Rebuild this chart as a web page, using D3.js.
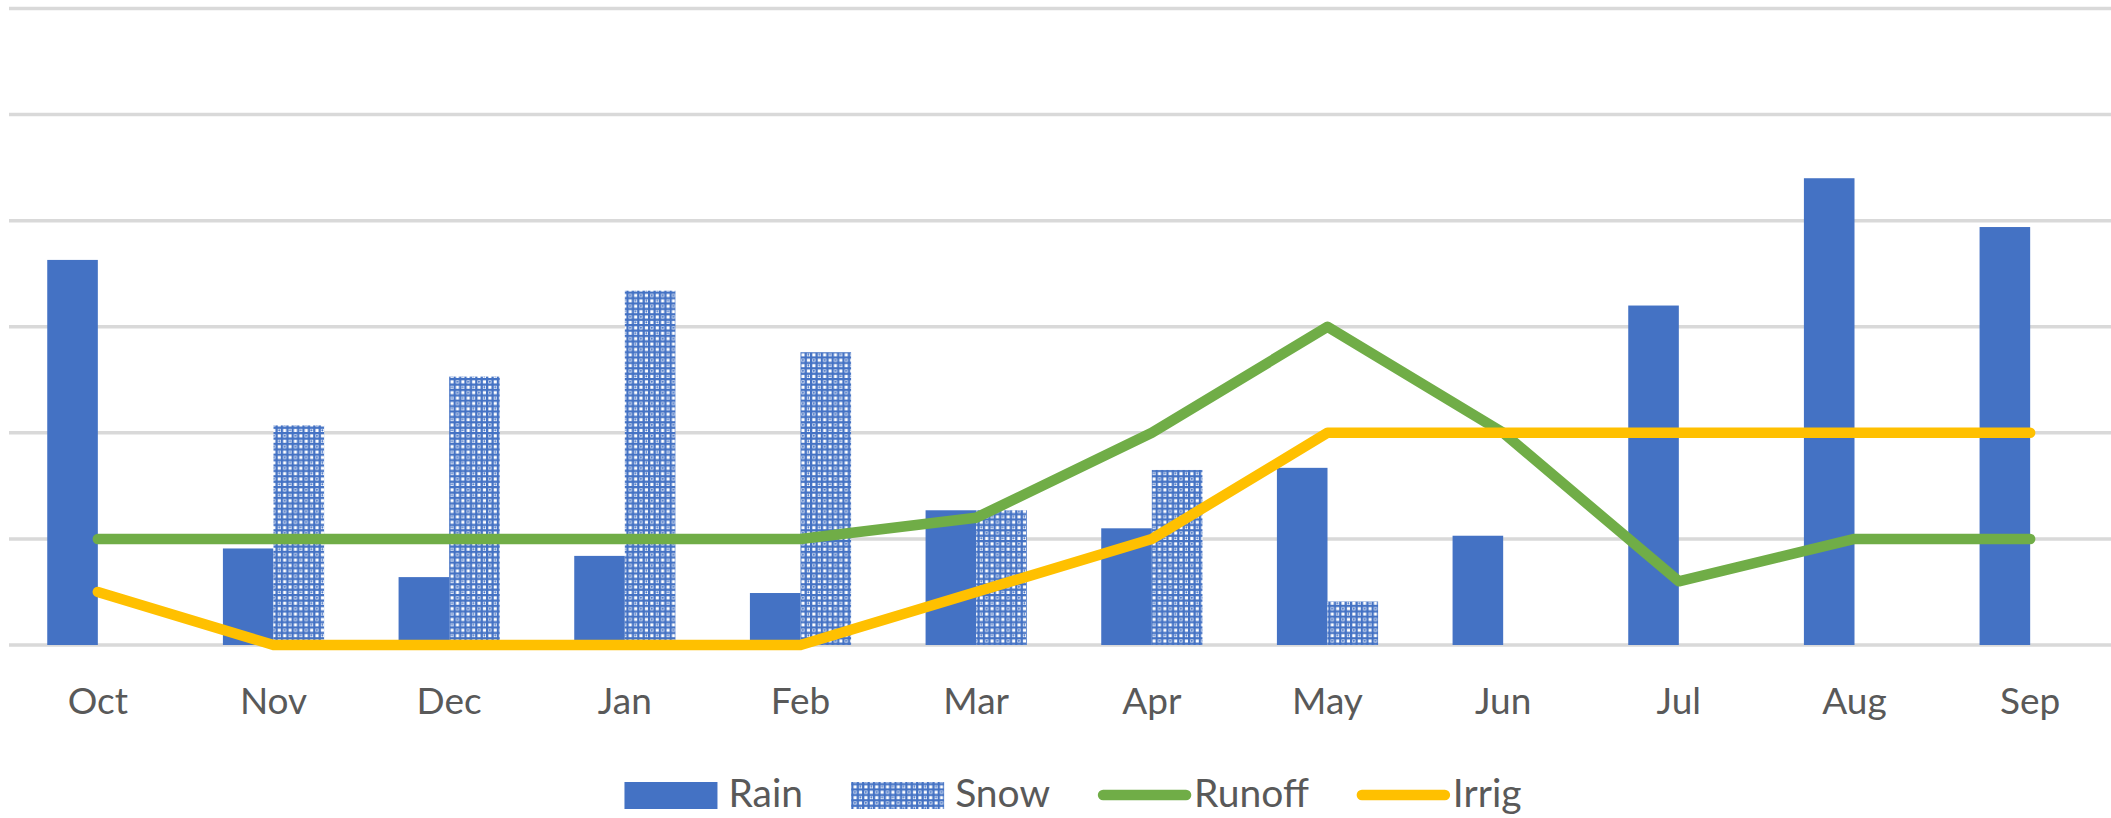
<!DOCTYPE html>
<html>
<head>
<meta charset="utf-8">
<script src="https://cdn.jsdelivr.net/npm/d3@7"></script>
<style>
  html, body { margin: 0; padding: 0; background: #ffffff; }
  svg { display: block; }
  text { font-family: Lato, "Open Sans", sans-serif; fill: #595959; }
</style>
</head>
<body>
<svg id="chart" width="2111" height="818"></svg>
<script>
const months = ["Oct","Nov","Dec","Jan","Feb","Mar","Apr","May","Jun","Jul","Aug","Sep"];
const rain   = [3.63, 0.91, 0.64, 0.84, 0.49, 1.27, 1.10, 1.67, 1.03, 3.20, 4.40, 3.94];
const snow   = [0, 2.07, 2.53, 3.34, 2.76, 1.27, 1.65, 0.41, 0, 0, 0, 0];
const runoff = [1, 1, 1, 1, 1, 1.2, 2, 3, 2, 0.6, 1, 1];
const irrig  = [0.5, 0, 0, 0, 0, 0.5, 1, 2, 2, 2, 2, 2];
const yTicks = [0, 1, 2, 3, 4, 5, 6];
const legendLabels = ["Rain", "Snow", "Runoff", "Irrig"];

const colors = { Rain: "#4472C4", Snow: "#4472C4", Runoff: "#70AD47", Irrig: "#FFC000" };

const svg = d3.select("#chart");
const W = 2111, H = 818;
const plot = { left: 10, right: 2118, top: 8.5, bottom: 645 };

// pattern for Snow
const defs = svg.append("defs");
const t = 10.8, c = t / 2;
const pat = defs.append("pattern").attr("id", "snowPat")
  .attr("patternUnits", "userSpaceOnUse").attr("width", t).attr("height", t);
pat.append("rect").attr("width", t).attr("height", t).attr("fill", "#ffffff");
[0, c].forEach(o => {
  pat.append("rect").attr("x", o).attr("y", 0).attr("width", 2.3).attr("height", t).attr("fill", colors.Snow);
  pat.append("rect").attr("x", 0).attr("y", o).attr("width", t).attr("height", 2.3).attr("fill", colors.Snow);
});
pat.append("circle").attr("cx", 3.8).attr("cy", 3.8).attr("r", 1.0).attr("fill", colors.Snow);
pat.append("circle").attr("cx", 3.8 + c).attr("cy", 3.8 + c).attr("r", 1.0).attr("fill", colors.Snow);

const x0 = d3.scaleBand().domain(months).range([plot.left, plot.right]).padding(0);
const bw = x0.bandwidth();
const x1 = d3.scaleBand().domain(["Rain", "Snow"])
  .range([bw / 2 - bw * 0.288, bw / 2 + bw * 0.288]).padding(0);
const y = d3.scaleLinear().domain([0, 6]).range([plot.bottom, plot.top]);

// gridlines
svg.append("g").selectAll("line").data(yTicks).join("line")
  .attr("x1", 9).attr("x2", W + 10)
  .attr("y1", d => y(d)).attr("y2", d => y(d))
  .attr("stroke", "#d9d9d9").attr("stroke-width", 3.5);

// bars
const barData = [];
months.forEach((m, i) => {
  barData.push({ m, s: "Rain", v: rain[i] });
  barData.push({ m, s: "Snow", v: snow[i] });
});
svg.append("g").selectAll("rect").data(barData.filter(d => d.v > 0)).join("rect")
  .attr("x", d => x0(d.m) + x1(d.s))
  .attr("width", x1.bandwidth())
  .attr("y", d => y(d.v))
  .attr("height", d => y(0) - y(d.v))
  .attr("fill", d => d.s === "Rain" ? colors.Rain : "url(#snowPat)");

// lines
const line = d3.line()
  .x((d, i) => x0(months[i]) + bw / 2)
  .y(d => y(d));
[["Runoff", runoff], ["Irrig", irrig]].forEach(([name, vals]) => {
  svg.append("path").datum(vals)
    .attr("d", line)
    .attr("fill", "none")
    .attr("stroke", colors[name])
    .attr("stroke-width", 10.5)
    .attr("stroke-linejoin", "round")
    .attr("stroke-linecap", "round");
});

// x axis labels
svg.append("g").selectAll("text").data(months).join("text")
  .attr("x", d => x0(d) + bw / 2)
  .attr("y", 714)
  .attr("text-anchor", "middle")
  .attr("font-size", 37)
  .text(d => d);

// legend
const lg = svg.append("g");
const sw = 93, gapSwatchText = 11, gapLineText = 3, gapItems = 48;
let cx = 0;
legendLabels.forEach(name => {
  const g = lg.append("g");
  const isLine = (name === "Runoff" || name === "Irrig");
  if (isLine) {
    g.append("line").attr("x1", cx + 5).attr("x2", cx + sw - 5)
      .attr("y1", 795).attr("y2", 795)
      .attr("stroke", colors[name]).attr("stroke-width", 10.5)
      .attr("stroke-linecap", "round");
  } else {
    g.append("rect").attr("x", cx).attr("y", 782).attr("width", sw).attr("height", 27)
      .attr("fill", name === "Rain" ? colors.Rain : "url(#snowPat)");
  }
  const tx = cx + sw + (isLine ? gapLineText : gapSwatchText);
  const txt = g.append("text").attr("x", tx).attr("y", 807).attr("font-size", 39).text(name);
  const tw = txt.node().getComputedTextLength();
  cx = tx + tw + gapItems;
});
const totalW = cx - gapItems;
lg.attr("transform", `translate(${1073 - totalW / 2},0)`);
</script>
</body>
</html>
